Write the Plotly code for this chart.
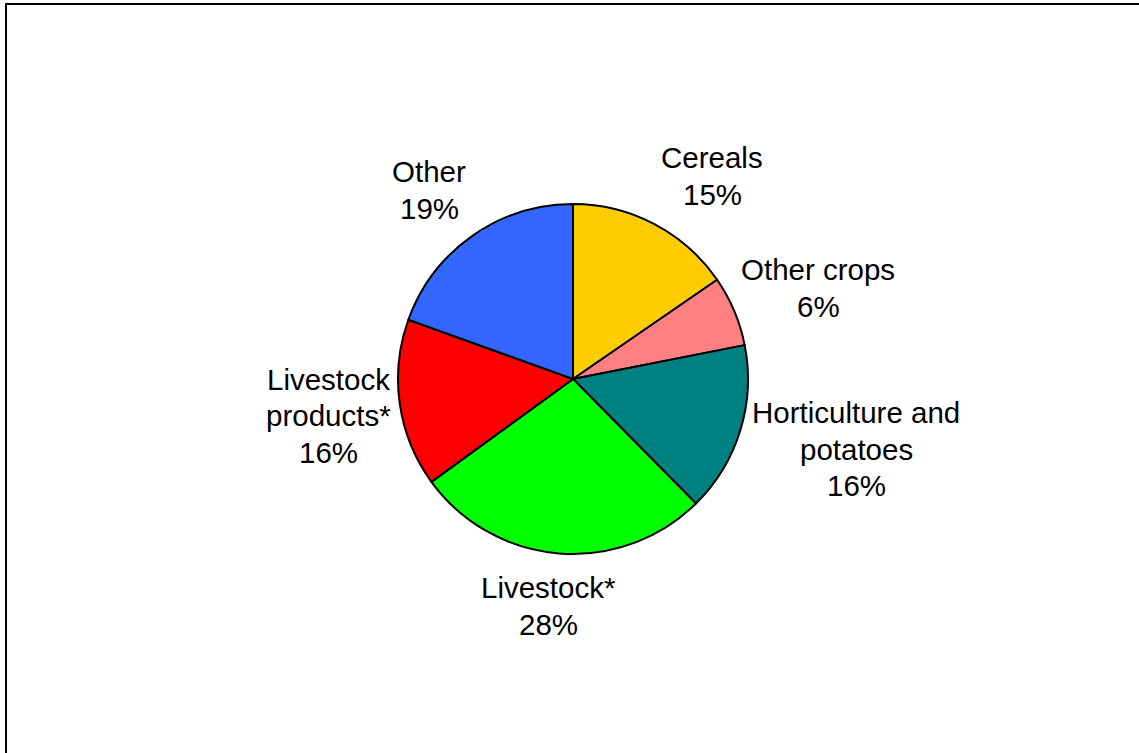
import plotly.graph_objects as go

# Data
categories = ["Cereals", "Other crops", "Horticulture and<br>potatoes", "Livestock*",
              "Livestock<br>products*", "Other"]
values = [15.4, 6.5, 15.7, 27.4, 15.5, 19.5]
pct_labels = ["15%", "6%", "16%", "28%", "16%", "19%"]
colors = ["#FFCC00", "#FF8080", "#008080", "#00FF00", "#FF0000", "#3366FF"]

W, H = 1139, 753
cx, cy, r = 573, 379, 175

fig = go.Figure(go.Pie(
    labels=categories,
    values=values,
    sort=False,
    direction="clockwise",
    rotation=0,
    marker=dict(colors=colors, line=dict(color="black", width=2)),
    textinfo="none",
    hoverinfo="label+percent",
    showlegend=False,
    domain=dict(x=[(cx - r) / W, (cx + r) / W], y=[1 - (cy + r) / H, 1 - (cy - r) / H]),
))

# label block centres (pixels)
label_pos = [(712, 176), (818, 288), (856, 449), (548, 606), (328, 416), (429, 190)]
line_gap = 36.5
for cat, pct, (px, py) in zip(categories, pct_labels, label_pos):
    lines = cat.split("<br>") + [pct]
    n = len(lines)
    for i, ln in enumerate(lines):
        ly = py + (i - (n - 1) / 2) * line_gap
        fig.add_annotation(
            x=px / W, y=1 - ly / H, xref="paper", yref="paper",
            text=ln, showarrow=False,
            xanchor="center", yanchor="middle", align="center",
            font=dict(family="Liberation Sans, Arial, sans-serif", size=29.5, color="black"),
        )

# outer border
fig.add_shape(type="rect", xref="paper", yref="paper",
              x0=6 / W, x1=1150 / W, y0=1 - 770 / H, y1=1 - 4 / H,
              line=dict(color="black", width=2), fillcolor="rgba(0,0,0,0)")

fig.update_layout(
    width=W, height=H,
    margin=dict(l=0, r=0, t=0, b=0),
    paper_bgcolor="white", plot_bgcolor="white",
)

fig.write_html("out.html")
